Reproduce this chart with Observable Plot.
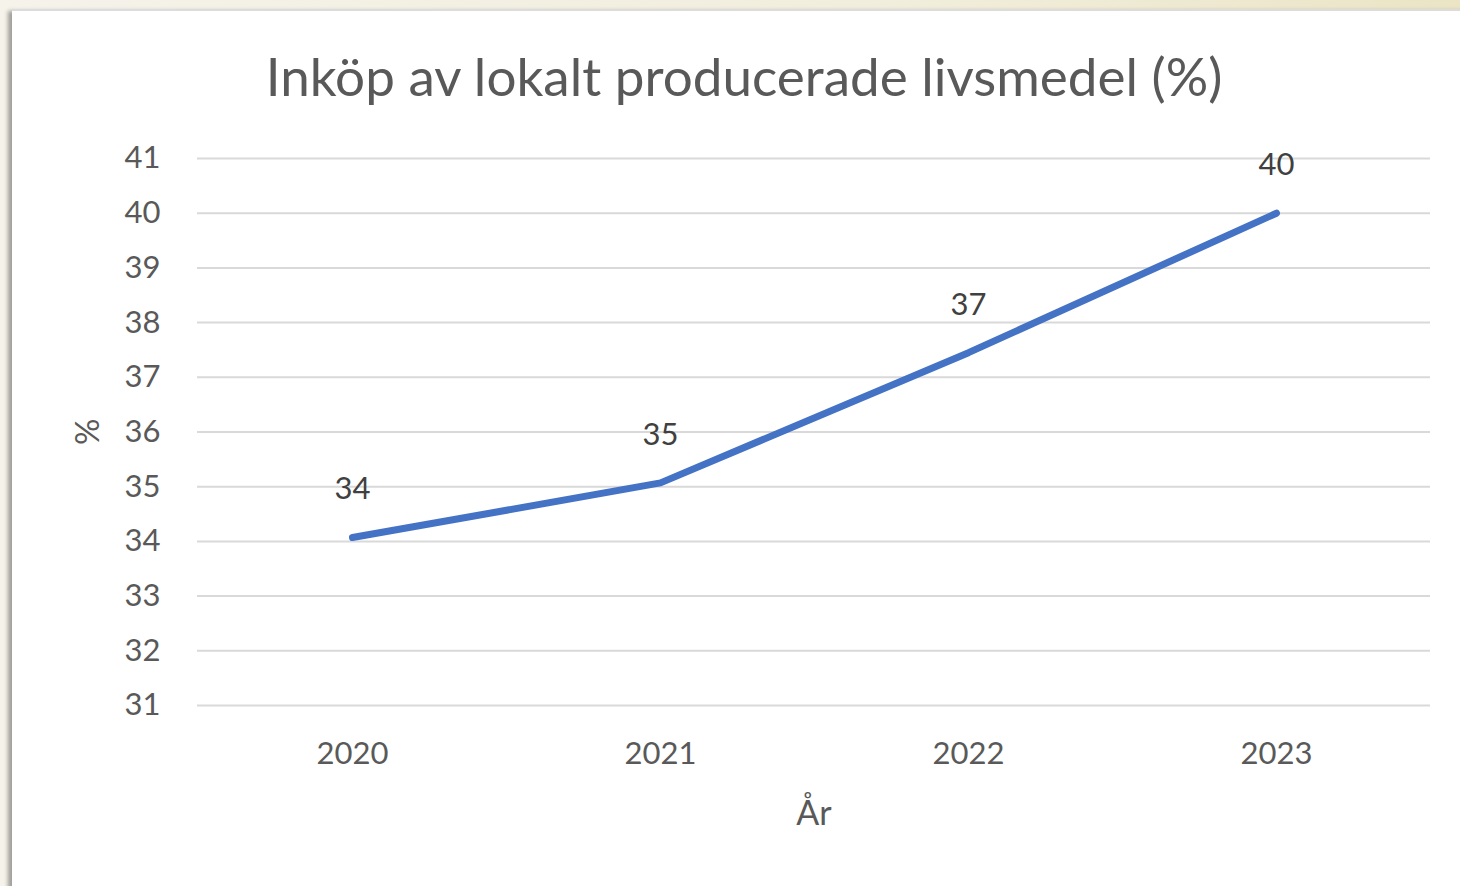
<!DOCTYPE html>
<html>
<head>
<meta charset="utf-8">
<script src="https://cdn.jsdelivr.net/npm/d3@7"></script>
<script src="https://cdn.jsdelivr.net/npm/@observablehq/plot@0.6"></script>
<style>
  html, body { margin: 0; padding: 0; }
  body {
    width: 1460px; height: 886px; overflow: hidden; position: relative;
    background: linear-gradient(90deg, #f5f3ea 0%, #f1eedd 60%, #ebe5c6 100%);
    font-family: Lato, "Open Sans", sans-serif;
  }
  #panel {
    position: absolute; left: 12px; top: 9px; width: 1460px; height: 875px;
    background: #ffffff;
    border-top: 2px solid #dcdcdc; border-bottom: 2px solid #dcdcdc;
    box-shadow: -4px 2px 4px rgba(0,0,0,0.35);
  }
  #title {
    position: absolute; left: 0; top: 44px; width: 1460px;
    text-align: center; padding-left: 28px; box-sizing: border-box;
    font-size: 53px; color: #595959; line-height: 64px;
  }
  #chart { position: absolute; left: 0; top: 129px; }
</style>
</head>
<body>
<div id="panel"></div>
<div id="title">Inköp av lokalt producerade livsmedel (%)</div>
<div id="chart"></div>
<script>
const years = ["2020", "2021", "2022", "2023"];
const values = [34.07, 35.07, 37.45, 40.0];
const yTicks = [31, 32, 33, 34, 35, 36, 37, 38, 39, 40, 41];
const yLabel = "%";
const xLabel = "År";

const data = years.map((y, i) => ({year: y, value: values[i]}));

const chart = Plot.plot({
  width: 1460,
  height: 757,
  marginLeft: 197,
  marginRight: 30,
  marginTop: 29,
  marginBottom: 181,
  style: {fontFamily: "Lato, 'Open Sans', sans-serif", fontSize: "31px", color: "#595959", background: "transparent"},
  x: {type: "point", domain: years, padding: 0.5},
  y: {domain: [31, 41]},
  marks: [
    Plot.gridY(yTicks, {stroke: "#d9d9d9", strokeOpacity: 1, strokeWidth: 2}),
    Plot.axisY(yTicks, {tickSize: 0, tickPadding: 37, tickFormat: "d", fill: "#595959", label: null, fontSize: 31}),
    Plot.axisX({tickSize: 0, tickPadding: 36, fill: "#595959", label: null, fontSize: 31}),
    Plot.text([yLabel], {frameAnchor: "left", dx: -109, dy: 13, rotate: -90, fill: "#595959", fontSize: 33}),
    Plot.text([xLabel], {frameAnchor: "bottom", dy: 119, fill: "#595959", fontSize: 34}),
    Plot.line(data, {x: "year", y: "value", stroke: "#4472c4", strokeWidth: 7, strokeLinecap: "round", strokeLinejoin: "round"}),
    Plot.text(data, {x: "year", y: "value", text: d => String(Math.round(d.value)), dy: -48, fill: "#404040", fontSize: 31})
  ]
});
document.getElementById("chart").appendChild(chart);
</script>
</body>
</html>
